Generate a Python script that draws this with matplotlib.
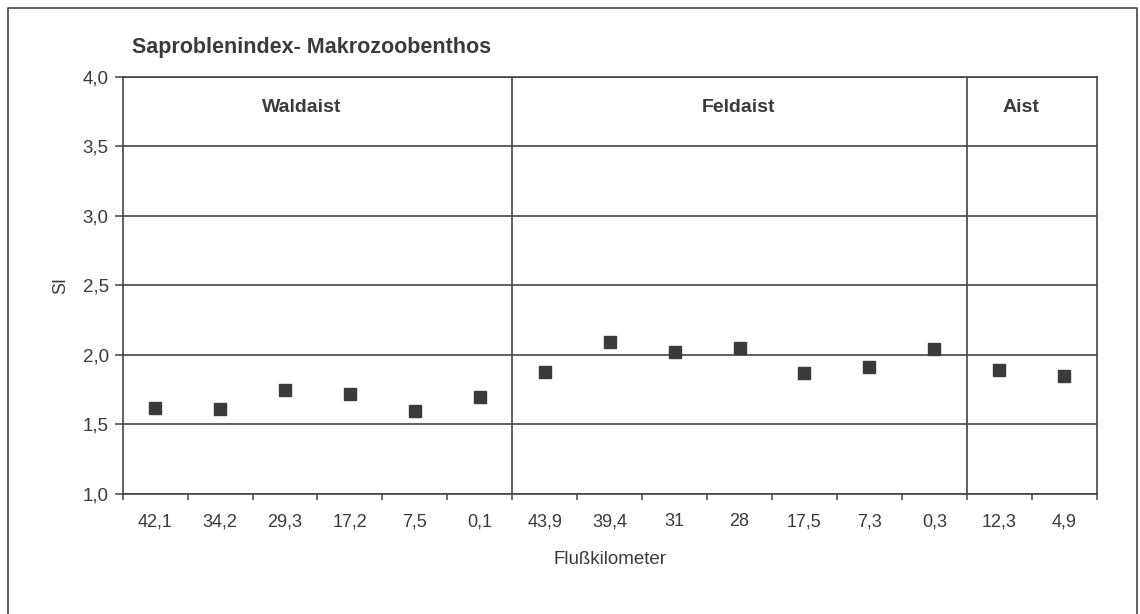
import matplotlib
matplotlib.use("Agg")
import matplotlib.pyplot as plt
from matplotlib.lines import Line2D

# Data
categories = ["42,1", "34,2", "29,3", "17,2", "7,5", "0,1",
              "43,9", "39,4", "31", "28", "17,5", "7,3", "0,3",
              "12,3", "4,9"]
si_values = [1.62, 1.61, 1.75, 1.72, 1.60, 1.70,
             1.88, 2.09, 2.02, 2.05, 1.87, 1.91, 2.04,
             1.89, 1.85]
rivers = ["Waldaist", "Feldaist", "Aist"]
river_counts = [6, 7, 2]
y_ticks = [1.0, 1.5, 2.0, 2.5, 3.0, 3.5, 4.0]
y_tick_labels = ["1,0", "1,5", "2,0", "2,5", "3,0", "3,5", "4,0"]

plt.rcParams['font.family'] = ['Liberation Sans', 'DejaVu Sans']
TXT = "#3a3a3a"
LINE = "#444444"

fig = plt.figure(figsize=(11.4, 6.14), dpi=100)
ax = fig.add_axes([0.1076, 0.1954, 0.8544, 0.68])

x = list(range(len(categories)))
ax.plot(x, si_values, linestyle="none", marker="s", markersize=9,
        color="#3a3a3a", markeredgecolor="#3a3a3a", zorder=3)

ax.set_xlim(-0.5, len(categories) - 0.5)
ax.set_ylim(1.0, 4.0)

# horizontal grid lines
for yv in y_ticks:
    ax.axhline(yv, color=LINE, linewidth=1.2, zorder=1)

# river dividers and labels
label_pos = [2.25, 8.98, 13.33]
start = 0
for name, cnt, lp in zip(rivers, river_counts, label_pos):
    end = start + cnt
    if end < len(categories):
        ax.axvline(end - 0.5, color=LINE, linewidth=1.2, zorder=1)
    ax.text(lp, 3.774, name, ha="center", va="center", fontsize=14,
            fontweight="bold", color=TXT)
    start = end

for s in ax.spines.values():
    s.set_color(LINE)
    s.set_linewidth(1.2)

ax.set_yticks(y_ticks)
ax.set_yticklabels(y_tick_labels, fontsize=13.5, color=TXT)
ax.tick_params(axis="y", length=6, width=1.1, color=LINE, pad=4)

ax.set_xticks(x)
ax.set_xticklabels(categories, fontsize=13, color=TXT)
ax.tick_params(axis="x", which="major", length=0, pad=14)
ax.set_xticks([i - 0.5 for i in range(len(categories) + 1)], minor=True)
ax.tick_params(axis="x", which="minor", length=4, width=1.1, color=LINE)

ax.set_ylabel("SI", fontsize=13, color=TXT, labelpad=10)
ax.set_xlabel("Flußkilometer", fontsize=13.5, color=TXT, labelpad=15)

fig.text(132 / 1140, 1 - 48 / 614, "Saproblenindex- Makrozoobenthos",
         ha="left", va="center", fontsize=15.5, fontweight="bold", color=TXT)

# outer frame (left, top, right)
W, H = 1140, 614
fx = [8 / W, 8 / W, 1137 / W, 1137 / W]
fy = [0.0, 1 - 8 / H, 1 - 8 / H, 0.0]
fig.add_artist(Line2D(fx, fy, transform=fig.transFigure, color=LINE, linewidth=1.2))

fig.savefig("out.png", dpi=100, facecolor="white")
